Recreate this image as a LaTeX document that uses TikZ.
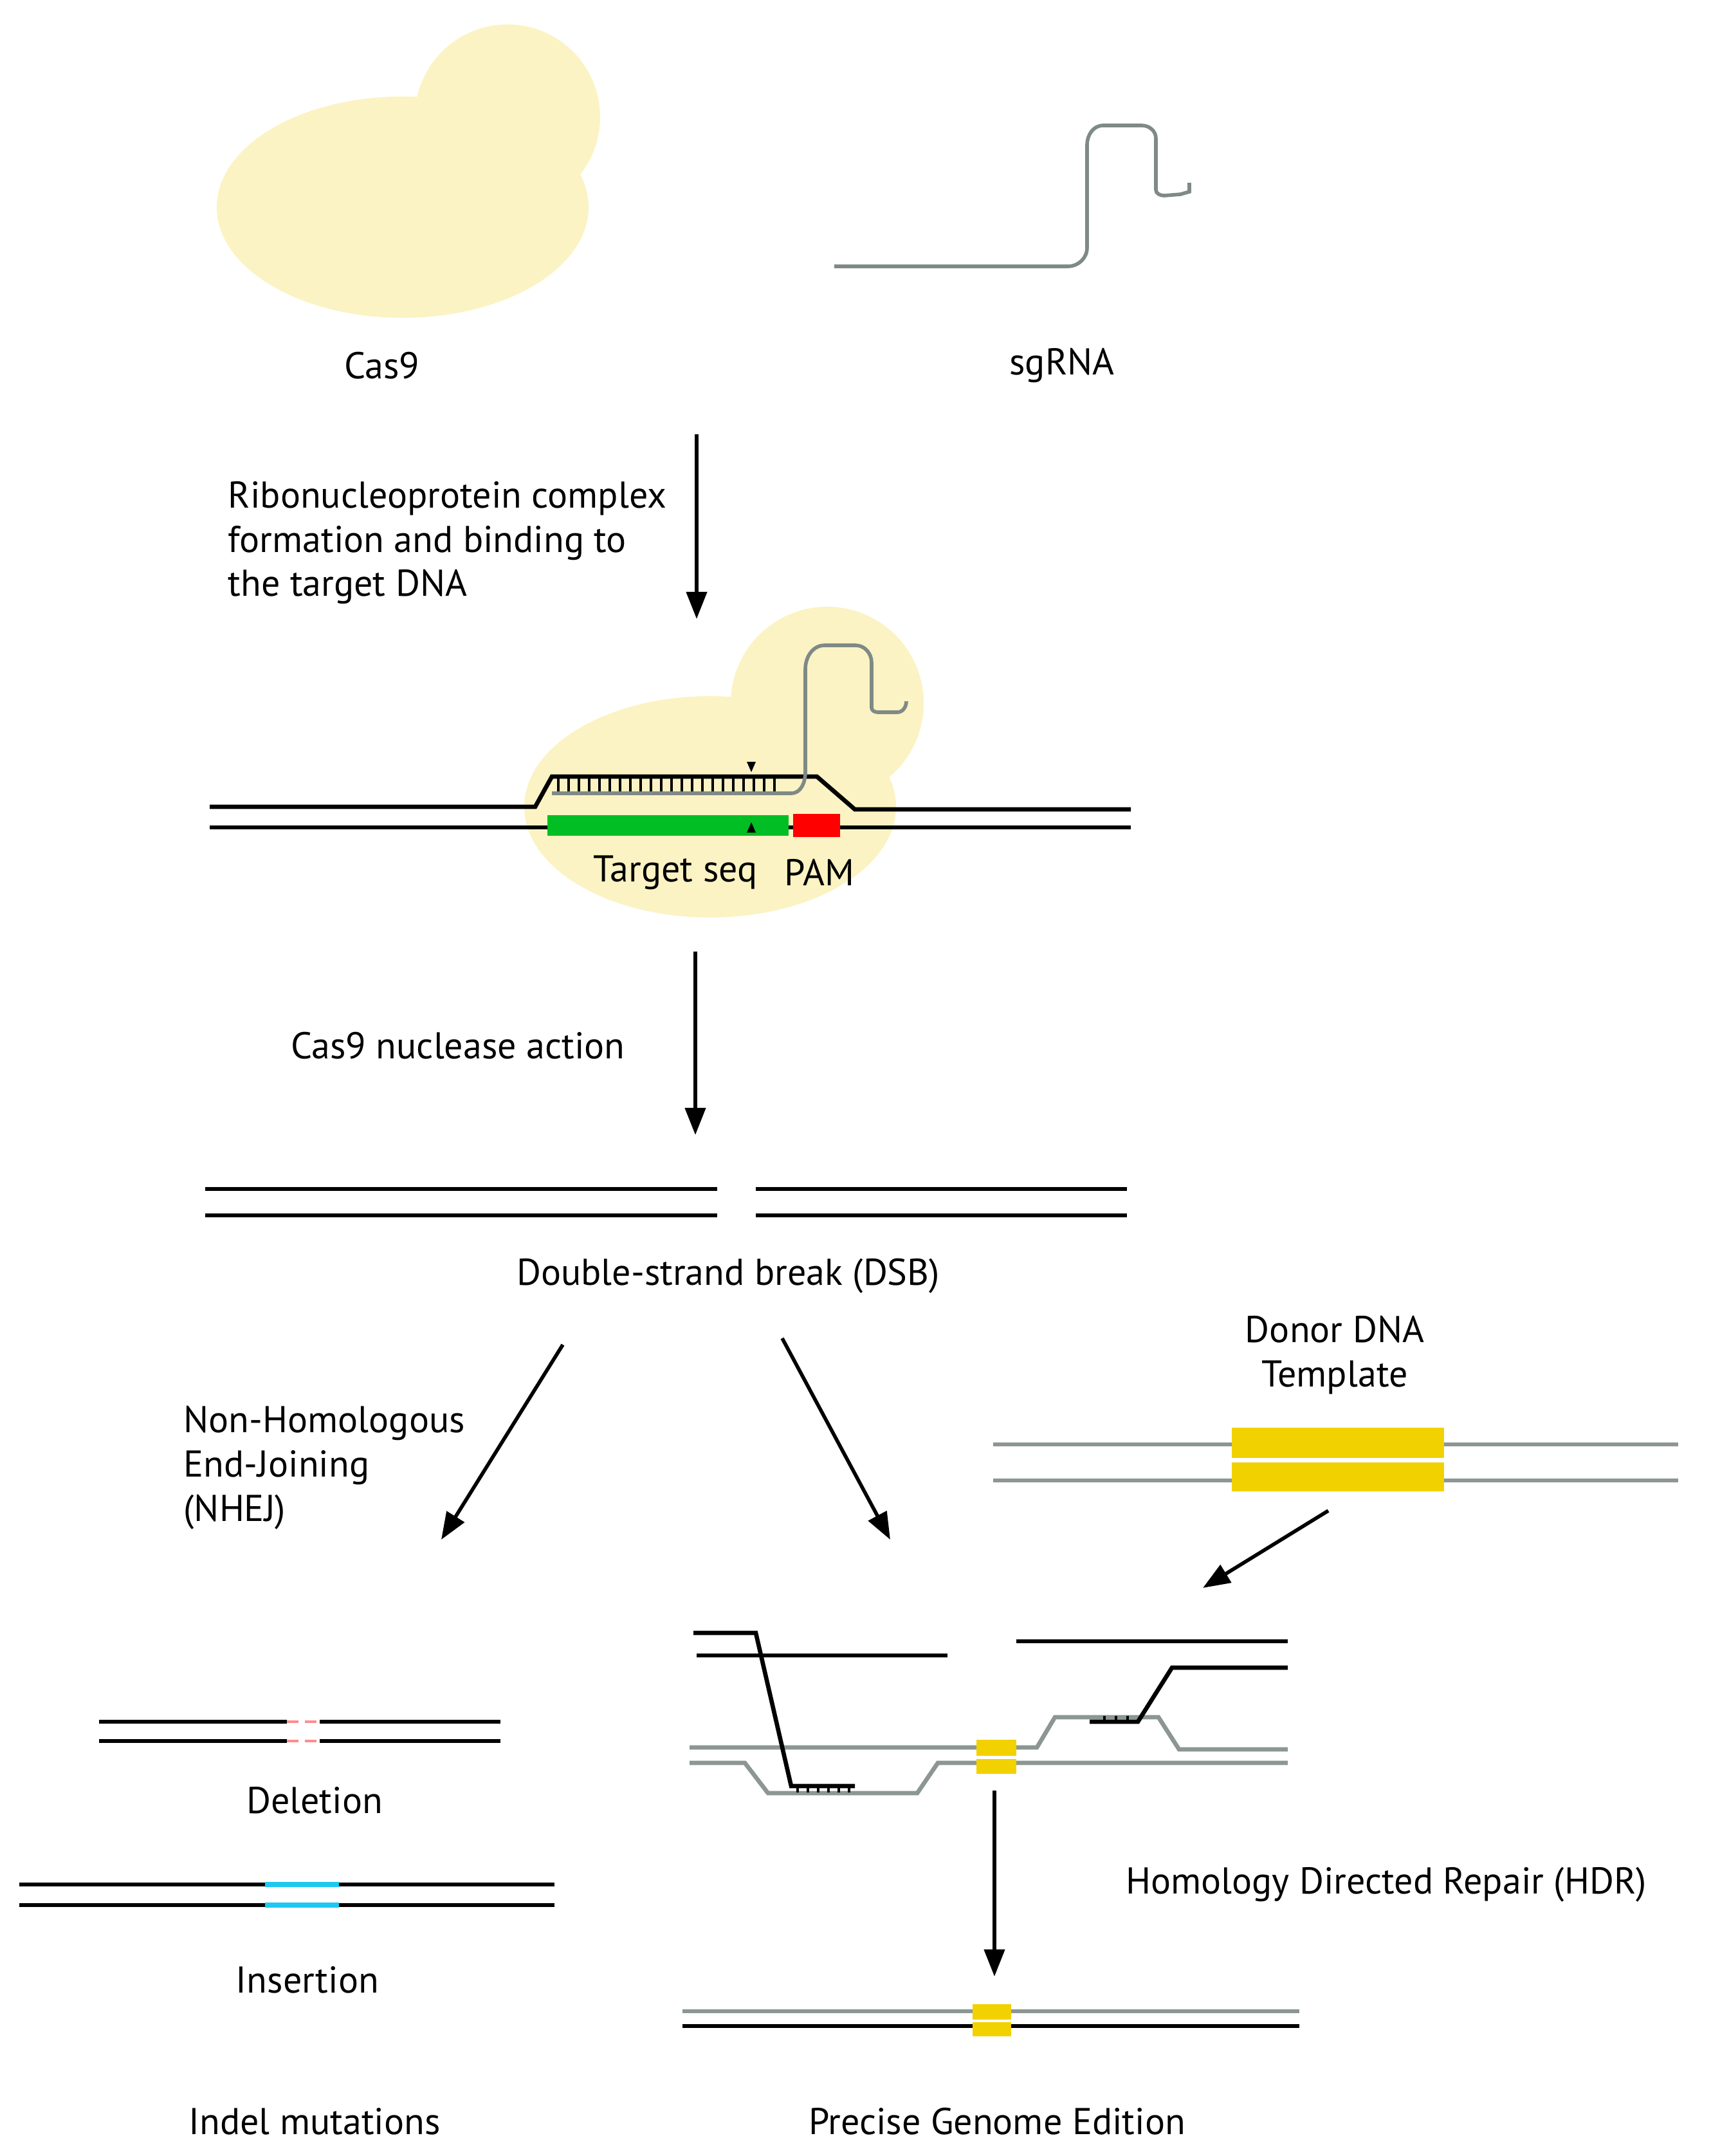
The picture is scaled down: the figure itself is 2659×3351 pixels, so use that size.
\documentclass[tikz,border=0pt]{standalone}
\usepackage{fontspec}
\setmainfont{PT Sans}
\usetikzlibrary{arrows.meta}
\definecolor{blob}{HTML}{FBF3C3}
\definecolor{rna}{HTML}{7F8A86}
\definecolor{gold}{HTML}{F2D100}
\definecolor{tgreen}{HTML}{00BE23}
\definecolor{icyan}{HTML}{1EC8F0}
\begin{document}
\begin{tikzpicture}[x=0.01cm,y=-0.01cm,
  lbl/.style={font=\fontsize{16.5}{20}\selectfont, inner sep=0pt},
  blk/.style={line width=1.9pt, black},
  gry/.style={line width=1.9pt, rna!90},
  arr/.style={line width=1.6pt, -{Triangle[length=12pt,width=9pt]}},
  sm/.style={line width=1.6pt, rna}]
\useasboundingbox (0,0) rectangle (2659,3351);
% Cas9
\fill[blob] (626,322) ellipse [x radius=289, y radius=172];
\fill[blob] (789,182) circle [radius=144];
\node[lbl] (cas) at (594,568) {Cas9};
% sgRNA
\draw[sm] (1297,414) -- (1660,414) to[out=0,in=-90] (1690,385) -- (1690,225) to[out=90,in=180] (1715,195) -- (1775,195) to[out=0,in=90] (1797,215) -- (1797,295) to[out=-90,in=180] (1810,304) -- (1835,302) -- (1849,298) -- (1849,284);
\node[lbl] (sg) at (1651,568) {sgRNA};
% arrow 1
\coordinate (a1s) at (1083,675); \coordinate (a1e) at (1083,962);
\draw[arr] (a1s) -- (a1e);
\node[lbl, align=left, anchor=north west] (rnp) at (354,748) {Ribonucleoprotein complex\\[-0.5pt]formation and binding to\\[-0.5pt]the target DNA};
% complex
\fill[blob] (1104,1254) ellipse [x radius=289, y radius=172];
\fill[blob] (1286,1093) circle [radius=150];
\draw[blk] (326,1254) -- (832,1254) -- (858,1207) -- (1270,1207) -- (1329,1258) -- (1758,1258);
\draw[blk] (326,1286) -- (1758,1286);
\fill[tgreen] (851,1267) rectangle (1226,1299);
\fill[red] (1233,1265) rectangle (1306,1301);
\draw[sm] (858,1233) -- (1230,1233) to[out=0,in=-90] (1252,1200) -- (1252,1040) to[out=90,in=180] (1282,1003) -- (1330,1003) to[out=0,in=90] (1355,1030) -- (1355,1100) to[out=-90,in=180] (1365,1107) -- (1395,1107) to[out=0,in=-90] (1409,1090);
\foreach \i in {0,...,21} \draw[line width=0.9pt] (868+\i*16,1209) -- (868+\i*16,1230);
\fill (1168,1200) -- (1161,1184) -- (1175,1184) -- cycle;
\fill (1168,1278) -- (1161,1294) -- (1175,1294) -- cycle;
\node[lbl] (ts) at (1050,1356) {Target seq};
\node[lbl] (pam) at (1274,1356) {PAM};
% arrow 2
\coordinate (a2s) at (1081,1479); \coordinate (a2e) at (1081,1764);
\draw[arr] (a2s) -- (a2e);
\node[lbl] (nuc) at (712,1625) {Cas9 nuclease action};
% DSB
\draw[blk] (319,1848) -- (1115,1848) (1175,1848) -- (1752,1848);
\draw[blk] (319,1889) -- (1115,1889) (1175,1889) -- (1752,1889);
\node[lbl] (dsb) at (1132,1983) {Double-strand break (DSB)};
\coordinate (b1s) at (875,2090); \coordinate (b1e) at (686,2393);
\coordinate (b2s) at (1216,2080); \coordinate (b2e) at (1384,2393);
\draw[arr] (b1s) -- (b1e);
\draw[arr] (b2s) -- (b2e);
\node[lbl, align=left, anchor=north west] (nhej) at (285,2185) {Non-Homologous\\[-0.5pt]End-Joining\\[-0.5pt](NHEJ)};
% donor
\node[lbl, align=center] (don) at (2075,2106) {Donor DNA\\[-0.5pt]Template};
\draw[gry] (1544,2245) -- (2609,2245);
\draw[gry] (1544,2301) -- (2609,2301);
\fill[gold] (1915,2219) rectangle (2245,2266);
\fill[gold] (1915,2273) rectangle (2245,2318);
\coordinate (c1s) at (2065,2348); \coordinate (c1e) at (1870,2468);
\draw[arr] (c1s) -- (c1e);
% deletion
\draw[blk] (154,2676) -- (446,2676) (497,2676) -- (778,2676);
\draw[blk] (154,2706) -- (446,2706) (497,2706) -- (778,2706);
\draw[line width=1.4pt, red!45, dash pattern=on 5pt off 3pt] (446,2676) -- (497,2676) (446,2706) -- (497,2706);
\node[lbl] (del) at (489,2798) {Deletion};
% insertion
\draw[blk] (30,2929) -- (862,2929);
\draw[blk] (30,2961) -- (862,2961);
\draw[line width=2.4pt, icyan] (412,2929) -- (527,2929) (412,2961) -- (527,2961);
\node[lbl] (ins) at (478,3077) {Insertion};
\node[lbl] (ind) at (489,3297) {Indel mutations};
% HDR
\draw[gry] (1072,2716) -- (1612,2716) -- (1640,2669) -- (1801,2669) -- (1833,2719) -- (2002,2719);
\draw[gry] (1072,2740) -- (1158,2740) -- (1194,2787) -- (1426,2787) -- (1458,2740) -- (2002,2740);
\fill[gold] (1518,2704) rectangle (1580,2729);
\fill[gold] (1518,2734) rectangle (1580,2757);
\draw[line width=1.9pt] (1078,2538) -- (1175,2538) -- (1230,2776) -- (1329,2776);
\foreach \i in {0,...,5} \draw[line width=1.1pt] (1240+\i*16,2776) -- (1240+\i*16,2786);
\draw[blk] (1083,2573) -- (1473,2573);
\draw[blk] (1580,2551) -- (2002,2551);
\draw[line width=1.9pt] (2002,2592) -- (1822,2592) -- (1769,2676) -- (1694,2676);
\foreach \i in {0,...,2} \draw[line width=1.1pt] (1717+\i*18,2676) -- (1717+\i*18,2667);
\coordinate (d1s) at (1546,2783); \coordinate (d1e) at (1546,3072);
\draw[arr] (d1s) -- (d1e);
\node[lbl] (hdr) at (2155,2929) {Homology Directed Repair (HDR)};
% final
\draw[gry] (1061,3126) -- (2020,3126);
\draw[blk] (1061,3149) -- (2020,3149);
\fill[gold] (1512,3115) rectangle (1572,3139);
\fill[gold] (1512,3143) rectangle (1572,3165);
\node[lbl] (pge) at (1550,3297) {Precise Genome Edition};
\end{tikzpicture}
\end{document}
